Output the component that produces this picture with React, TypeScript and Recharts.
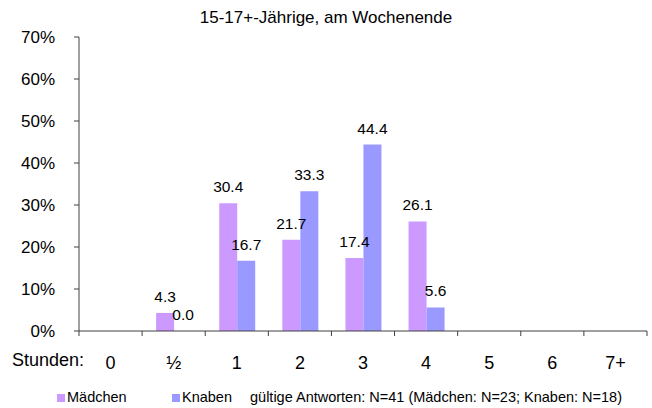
import React from "react";
import { BarChart, Bar, XAxis, YAxis, Legend } from "recharts";

const CATEGORIES = ["0", "½", "1", "2", "3", "4", "5", "6", "7+"];
const MAEDCHEN = [null, 4.3, 30.4, 21.7, 17.4, 26.1, null, null, null];
const KNABEN = [null, 0.0, 16.7, 33.3, 44.4, 5.6, null, null, null];
const Y_TICKS = [0, 10, 20, 30, 40, 50, 60, 70];

const TITLE = "15-17+-Jährige, am Wochenende";
const NOTE = "gültige Antworten: N=41 (Mädchen: N=23; Knaben: N=18)";

const FONT = "'Liberation Sans', Arial, sans-serif";
const AXIS = "#404040";
const PINK = "#CC99FF";
const BLUE = "#9999FF";

const data = CATEGORIES.map((c, i) => ({
  cat: c,
  maedchen: MAEDCHEN[i],
  knaben: KNABEN[i],
}));

// label in the middle of the band, tick marks on the band edges
function CatTick(props: any) {
  const { x, y, payload, index } = props;
  const half = 568 / CATEGORIES.length / 2;
  return (
    <g>
      <line x1={x - half} y1={y - 8} x2={x - half} y2={y - 3} stroke={AXIS} />
      {index === CATEGORIES.length - 1 && (
        <line x1={x + half} y1={y - 8} x2={x + half} y2={y - 3} stroke={AXIS} />
      )}
      <text x={x} y={y + 30} textAnchor="middle" fontSize={18} fill="#000" fontFamily={FONT}>
        {payload.value}
      </text>
    </g>
  );
}

// value label above a bar, also drawn for zero-height bars
function ValueLabel(props: any) {
  const { x, y, width, height, value } = props;
  if (value === null || value === undefined) return null;
  const top = Math.min(y, y + (height || 0));
  return (
    <text
      x={x + width / 2}
      y={top - 11}
      textAnchor="middle"
      fontSize={15.5}
      fill="#000"
      fontFamily={FONT}
    >
      {Number(value).toFixed(1)}
    </text>
  );
}

function LegendBox() {
  return (
    <div style={{ position: "relative", height: 20, fontFamily: FONT, fontSize: 14.5, color: "#000" }}>
      <span style={{ position: "absolute", left: 57, top: 5, width: 8, height: 8, background: PINK }} />
      <span style={{ position: "absolute", left: 67, top: 0 }}>Mädchen</span>
      <span style={{ position: "absolute", left: 172, top: 5, width: 8, height: 8, background: BLUE }} />
      <span style={{ position: "absolute", left: 182, top: 0 }}>Knaben</span>
      <span style={{ position: "absolute", left: 250, top: 0 }}>{NOTE}</span>
    </div>
  );
}

export default function App() {
  return (
    <div style={{ position: "fixed", left: 0, top: 0, width: 652, height: 408, background: "#fff" }}>
      <div
        style={{
          position: "absolute",
          left: 0,
          width: 652,
          top: 8,
          textAlign: "center",
          fontFamily: FONT,
          fontSize: 17,
          color: "#000",
        }}
      >
        {TITLE}
      </div>
      <div
        style={{
          position: "absolute",
          left: 12,
          top: 350,
          fontFamily: FONT,
          fontSize: 18,
          color: "#000",
        }}
      >
        Stunden:
      </div>
      <BarChart
        width={652}
        height={408}
        data={data}
        margin={{ top: 37, right: 5, left: 0, bottom: 0 }}
        barGap={0}
        barSize={18}
      >
        <YAxis
          domain={[0, 70]}
          ticks={Y_TICKS}
          tickFormatter={(v) => `${v}%`}
          width={79}
          axisLine={{ stroke: AXIS }}
          tickLine={{ stroke: AXIS }}
          tickSize={5}
          tickMargin={19}
          tick={{ fontSize: 17, fill: "#000", fontFamily: FONT }}
        />
        <XAxis
          dataKey="cat"
          height={57}
          axisLine={{ stroke: AXIS }}
          tickLine={false}
          tick={<CatTick />}
          interval={0}
        />
        <Legend
          verticalAlign="bottom"
          content={() => <LegendBox />}
          wrapperStyle={{ left: 0, bottom: -1, width: 652 }}
        />
        <Bar
          dataKey="maedchen"
          name="Mädchen"
          fill={PINK}
          isAnimationActive={false}
          label={<ValueLabel />}
        />
        <Bar
          dataKey="knaben"
          name="Knaben"
          fill={BLUE}
          minPointSize={0.01}
          isAnimationActive={false}
          label={<ValueLabel />}
        />
      </BarChart>
    </div>
  );
}
